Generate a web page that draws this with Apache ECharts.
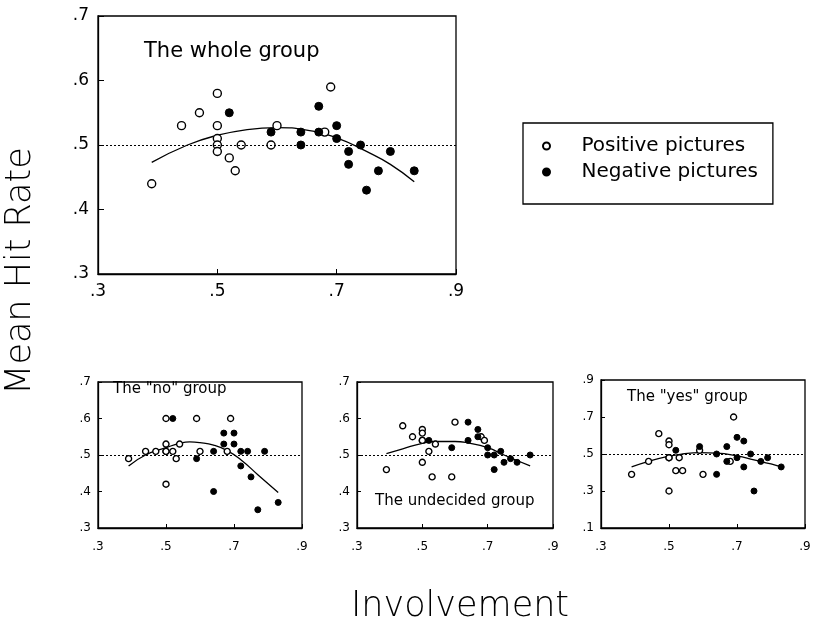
<!DOCTYPE html>
<html>
<head>
<meta charset="utf-8">
<script src="https://cdn.jsdelivr.net/npm/echarts@6/dist/echarts.min.js"></script>
<style>html,body{margin:0;padding:0;background:#fff}#c{width:815px;height:627px}</style>
</head>
<body>
<div id="c"></div>
<script>
// Involvement of each picture (x) — shared by all panels
const posX = [0.39,0.44,0.47,0.50,0.50,0.50,0.50,0.50,0.52,0.53,0.54,0.59,0.60,0.68,0.69];
const negX = [0.52,0.59,0.64,0.64,0.67,0.67,0.70,0.70,0.72,0.72,0.74,0.75,0.77,0.79,0.83];

// Mean hit rates
const wholePosY = [0.44,0.53,0.55,0.58,0.53,0.51,0.50,0.49,0.48,0.46,0.50,0.50,0.53,0.52,0.59];
const wholeNegY = [0.55,0.52,0.52,0.50,0.56,0.52,0.53,0.51,0.49,0.47,0.50,0.43,0.46,0.49,0.46];
const noPosY    = [0.49,0.51,0.51,0.60,0.53,0.51,0.51,0.42,0.51,0.49,0.53,0.60,0.51,0.51,0.60];
const noNegY    = [0.60,0.49,0.51,0.40,0.56,0.53,0.56,0.53,0.51,0.47,0.51,0.44,0.35,0.51,0.37];
const undPosY   = [0.46,0.58,0.55,0.57,0.56,0.54,0.54,0.48,0.51,0.44,0.53,0.44,0.59,0.55,0.54];
const undNegY   = [0.54,0.52,0.59,0.54,0.57,0.55,0.52,0.50,0.50,0.46,0.51,0.48,0.49,0.48,0.50];
const yesPosY   = [0.39,0.46,0.61,0.57,0.55,0.48,0.48,0.30,0.41,0.48,0.41,0.52,0.39,0.46,0.70];
const yesNegY   = [0.52,0.54,0.50,0.39,0.54,0.46,0.59,0.48,0.57,0.43,0.50,0.30,0.46,0.48,0.43];

// Fitted curves
const wholeCurveX = [0.39,0.45,0.50,0.55,0.60,0.65,0.70,0.75,0.79,0.83];
const wholeCurveY = [0.473,0.500,0.515,0.524,0.527,0.523,0.511,0.490,0.470,0.443];
const noCurveX = [0.39,0.44,0.50,0.54,0.57,0.60,0.64,0.68,0.72,0.77,0.83];
const noCurveY = [0.470,0.500,0.520,0.532,0.536,0.534,0.527,0.512,0.487,0.446,0.397];
const undCurveX = [0.39,0.44,0.50,0.54,0.60,0.64,0.70,0.75,0.83];
const undCurveY = [0.504,0.517,0.532,0.537,0.537,0.533,0.520,0.500,0.470];
const yesCurveX = [0.39,0.44,0.50,0.54,0.59,0.64,0.70,0.75,0.80,0.83];
const yesCurveY = [0.430,0.460,0.488,0.500,0.507,0.505,0.490,0.468,0.446,0.430];

const xTicks = {min:0.3, max:0.9, interval:0.2};
const seriesNames = ['Positive pictures','Negative pictures'];
const panelTitles = ['The whole group','The "no" group','The undecided group','The "yes" group'];
const axisTitles = {x:'Involvement', y:'Mean Hit Rate'};

const zip = (xs, ys) => xs.map((x,i)=>[x, ys[i]]);
const fmt = v => v.toFixed(1).replace(/^0/,'');
const FONT = '"DejaVu Sans", Verdana, sans-serif';

const panels = [
  {grid:{left:98, top:16, width:358, height:258}, y:{min:0.3,max:0.7,interval:0.1}, pos:wholePosY, neg:wholeNegY, cx:wholeCurveX, cy:wholeCurveY, big:true},
  {grid:{left:98, top:382, width:204, height:146}, y:{min:0.3,max:0.7,interval:0.1}, pos:noPosY, neg:noNegY, cx:noCurveX, cy:noCurveY},
  {grid:{left:357, top:382, width:196, height:146}, y:{min:0.3,max:0.7,interval:0.1}, pos:undPosY, neg:undNegY, cx:undCurveX, cy:undCurveY},
  {grid:{left:601, top:380, width:204, height:148}, y:{min:0.1,max:0.9,interval:0.2}, pos:yesPosY, neg:yesNegY, cx:yesCurveX, cy:yesCurveY}
];

const grids=[], xAxes=[], yAxes=[], series=[];
panels.forEach((p,i)=>{
  grids.push(Object.assign({show:true, borderColor:'#000', borderWidth:1.3, backgroundColor:'#fff'}, p.grid));
  const fs = p.big ? 17 : 12;
  xAxes.push({type:'value', gridIndex:i, min:xTicks.min, max:xTicks.max, interval:xTicks.interval,
    axisLine:{show:true, onZero:false, lineStyle:{color:'#000', width:1.3}},
    axisTick:{show:true, inside:true, length:p.big?5:4, lineStyle:{color:'#000'}},
    splitLine:{show:false},
    axisLabel:{formatter:fmt, color:'#000', fontSize:fs, fontFamily:FONT, margin:p.big?9:13}});
  yAxes.push({type:'value', gridIndex:i, min:p.y.min, max:p.y.max, interval:p.y.interval,
    axisLine:{show:true, onZero:false, lineStyle:{color:'#000', width:1.3}},
    axisTick:{show:true, inside:true, length:p.big?6:4, lineStyle:{color:'#000'}},
    splitLine:{show:false},
    axisLabel:{formatter:fmt, color:'#000', fontSize:fs, fontFamily:FONT, margin:p.big?9:7}});
  series.push({type:'line', xAxisIndex:i, yAxisIndex:i, data:zip(p.cx,p.cy), smooth:true, showSymbol:false,
    lineStyle:{color:'#000', width:1.3}, silent:true, z:2,
    markLine:{silent:true, symbol:'none', label:{show:false},
      lineStyle:{color:'#000', type:[2,2], width:1}, data:[{yAxis:0.5}]}});
  const sz = p.big ? 8 : 6;
  series.push({name:seriesNames[0], type:'scatter', xAxisIndex:i, yAxisIndex:i, data:zip(posX,p.pos),
    symbol:'circle', symbolSize:sz, itemStyle:{color:'#fff', borderColor:'#000', borderWidth:1.4, opacity:1}, z:3});
  series.push({name:seriesNames[1], type:'scatter', xAxisIndex:i, yAxisIndex:i, data:zip(negX,p.neg),
    symbol:'circle', symbolSize:sz, itemStyle:{color:'#000', borderColor:'#000', borderWidth:1, opacity:1}, z:3});
});

const chart = echarts.init(document.getElementById('c'), null, {renderer:'canvas'});
chart.setOption({
  backgroundColor:'#fff',
  animation:false,
  grid:grids, xAxis:xAxes, yAxis:yAxes, series:series,
  legend:{data:seriesNames, orient:'vertical', left:523, top:123,
    borderColor:'#000', borderWidth:1.3, padding:[13,15,22,19], itemGap:6,
    itemWidth:20, itemHeight:7, selectedMode:false,
    textStyle:{fontSize:20, fontFamily:FONT, color:'#000', padding:[0,0,0,20]}},
  graphic:[
    {type:'text', left:144, top:41, style:{text:panelTitles[0], font:'21px '+FONT, fill:'#000'}},
    {type:'text', left:113, top:382, style:{text:panelTitles[1], font:'15px '+FONT, fill:'#000'}},
    {type:'text', left:375, top:494, style:{text:panelTitles[2], font:'15px '+FONT, fill:'#000'}},
    {type:'text', left:627, top:390, style:{text:panelTitles[3], font:'15px '+FONT, fill:'#000'}},
    {type:'text', x:21, y:271, rotation:Math.PI/2, style:{text:axisTitles.y, font:'200 35px '+FONT, fill:'#000', textAlign:'center', textVerticalAlign:'middle'}},
    {type:'text', x:460, y:607, style:{text:axisTitles.x, font:'200 35px '+FONT, fill:'#000', textAlign:'center', textVerticalAlign:'middle'}}
  ]
});
</script>
</body>
</html>
